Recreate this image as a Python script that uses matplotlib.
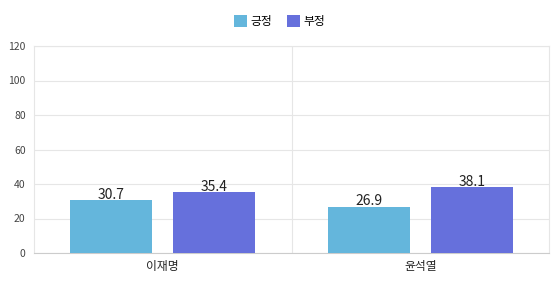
import numpy as np
import matplotlib.pyplot as plt
from matplotlib.patches import Patch

plt.rcParams['font.family'] = ['Noto Sans CJK KR', 'DejaVu Sans']

# données
candidats = ['이재명', '윤석열']
positif = [30.7, 26.9]
negatif = [35.4, 38.1]
series_labels = ['긍정', '부정']
yticks = [0, 20, 40, 60, 80, 100, 120]

col_pos = '#64b6dc'
col_neg = '#6670dc'

fig = plt.figure(figsize=(5.59, 2.91), dpi=100)
ax = fig.add_axes([34 / 559, 38 / 291, 515 / 559, 207 / 291])

x = np.arange(len(candidats))
w = 0.32
b1 = ax.bar(x - 0.2, positif, w, color=col_pos, zorder=3)
b2 = ax.bar(x + 0.2, negatif, w, color=col_neg, zorder=3)

for bars, vals in ((b1, positif), (b2, negatif)):
    for r, v in zip(bars, vals):
        ax.annotate(f"{v}", (r.get_x() + r.get_width() / 2, v), xytext=(0, 1),
                    textcoords='offset points', ha='center', va='baseline',
                    fontsize=10, color='#222222', zorder=4)

ax.set_xlim(-0.5, 1.5)
ax.set_ylim(0, 120)
ax.set_yticks(yticks)
ax.set_yticklabels([str(t) for t in yticks], fontsize=7.5, color='#444444')
ax.set_xticks(x)
ax.set_xticklabels(candidats, fontsize=8.5, color='#222222')
ax.tick_params(axis='both', length=0)
ax.tick_params(axis='y', pad=6)
ax.tick_params(axis='x', pad=5)

# grille
ax.grid(axis='y', color='#e6e6e6', linewidth=0.8, zorder=0)
ax.axvline(0.5, color='#e6e6e6', linewidth=0.8, zorder=0)
for s in ['top', 'right', 'left']:
    ax.spines[s].set_color('#e6e6e6')
    ax.spines[s].set_linewidth(0.8)
ax.spines['bottom'].set_color('#cccccc')
ax.spines['bottom'].set_linewidth(0.8)

handles = [Patch(facecolor=col_pos, label=series_labels[0]),
           Patch(facecolor=col_neg, label=series_labels[1])]
fig.legend(handles=handles, loc='upper center', bbox_to_anchor=(0.5, 0.985), ncol=2,
           frameon=False, fontsize=8.5, handlelength=1.1, handleheight=1.1,
           handletextpad=0.3, columnspacing=1.2)

fig.savefig('out.png', dpi=100)
